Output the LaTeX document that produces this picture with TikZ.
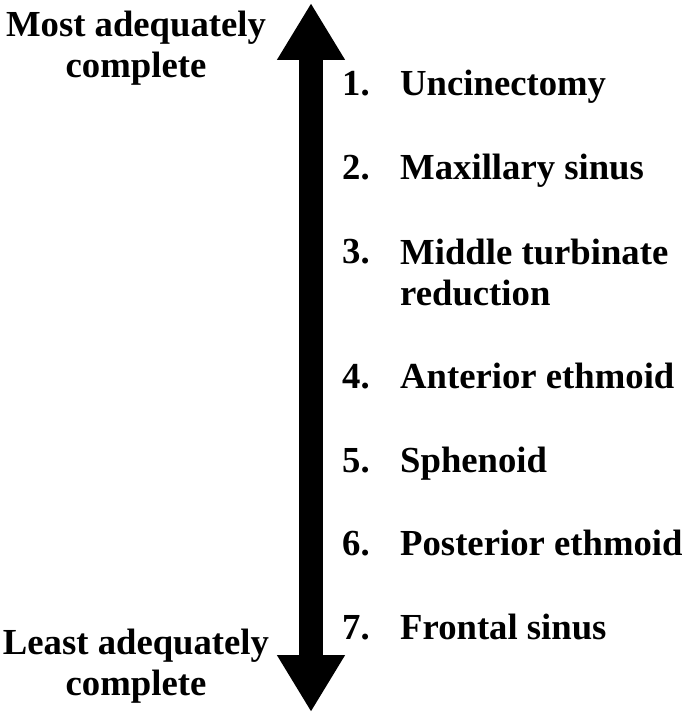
\documentclass[tikz,border=0pt]{standalone}
\usepackage{fontspec}
\setmainfont{Liberation Serif}
\usetikzlibrary{positioning,arrows.meta}
\tikzset{
  >=Stealth,
  fat/.style={
    line width=24pt,
    {Triangle[length=57pt,width=64pt]}-{Triangle[length=57pt,width=64pt]}
  },
  endlabel/.style={
    align=center,
    inner sep=0pt,
    anchor=base
  },
  num/.style={
    inner sep=0pt,
    anchor=base west
  },
  item/.style={
    align=left,
    inner sep=0pt,
    anchor=base west
  }
}

\begin{document}
\begin{tikzpicture}[
      x=1pt, y=-1pt,
      every node/.style={font=\fontsize{36.7}{41}\selectfont\bfseries}
    ]
      \useasboundingbox (0,0) rectangle (685,714);

      % scale arrow
      \coordinate (top) at (311,3);
      \coordinate (bot) at (311,712);
      \draw[fat] (top) -- (bot);

      % base = baseline of the last line
      \node[endlabel] (most) at (136,78) {Most adequately\\complete};
      \node[endlabel] (least) at (136,695) {Least adequately\\complete};

      % ranked steps
      \node[num] (n1) at (342,96) {1.};
      \node[item] (s1) at (400,96) {Uncinectomy};
      \node[num] (n2) at (342,179) {2.};
      \node[item] (s2) at (400,179) {Maxillary sinus};
      \node[num] (n3) at (342,263) {3.};
      \node[item] (s3) at (400,305) {Middle turbinate\\reduction};
      \node[num] (n4) at (342,388) {4.};
      \node[item] (s4) at (400,388) {Anterior ethmoid};
      \node[num] (n5) at (342,472) {5.};
      \node[item] (s5) at (400,472) {Sphenoid};
      \node[num] (n6) at (342,555) {6.};
      \node[item] (s6) at (400,555) {Posterior ethmoid};
      \node[num] (n7) at (342,639) {7.};
      \node[item] (s7) at (400,639) {Frontal sinus};
    \end{tikzpicture}
\end{document}
